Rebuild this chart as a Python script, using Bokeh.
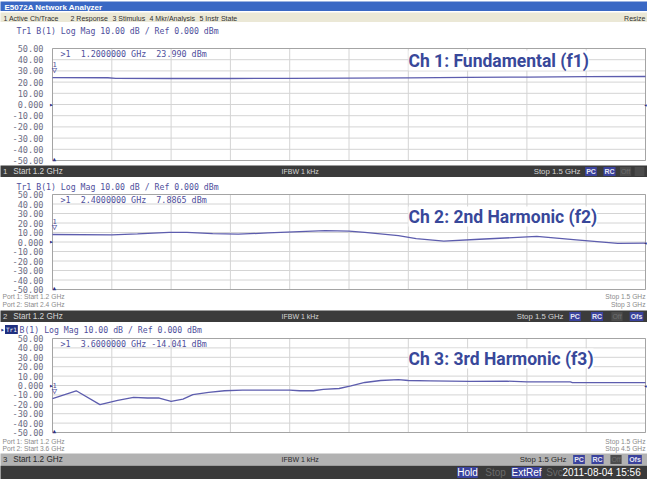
from bokeh.plotting import figure
from bokeh.models import Range1d, Label
from bokeh.layouts import column
from bokeh.core.properties import value
from bokeh.embed import file_html
from bokeh.resources import INLINE

# ---------------- data ----------------
X_TICKS = [1.20, 1.23, 1.26, 1.29, 1.32, 1.35, 1.38, 1.41, 1.44, 1.47, 1.50]
Y_TICKS = [-50, -40, -30, -20, -10, 0, 10, 20, 30, 40, 50]
Y_LABELS = ["-50.00", "-40.00", "-30.00", "-20.00", "-10.00", "0.000",
            "10.00", "20.00", "30.00", "40.00", "50.00"]

CH1_FREQ = [1.200, 1.228, 1.232, 1.260, 1.290, 1.320, 1.350, 1.380, 1.410, 1.440, 1.470, 1.500]
CH1_DBM = [23.99, 23.90, 23.30, 23.20, 23.20, 23.30, 23.50, 23.80, 24.20, 24.50, 24.80, 25.00]

CH2_FREQ = [1.200, 1.230, 1.243, 1.259, 1.268, 1.281, 1.294, 1.309, 1.325, 1.338,
            1.350, 1.358, 1.375, 1.384, 1.398, 1.416, 1.445, 1.465, 1.486, 1.500]
CH2_DBM = [7.89, 7.6, 8.6, 10.2, 10.2, 8.9, 8.2, 9.5, 10.9, 12.0,
           11.5, 10.2, 6.8, 3.5, 1.0, 2.9, 5.9, 2.2, -1.5, -1.2]

CH3_FREQ = [1.200, 1.212, 1.224, 1.233, 1.241, 1.248, 1.254, 1.260, 1.266, 1.271,
            1.279, 1.287, 1.296, 1.309, 1.320, 1.325, 1.332, 1.337, 1.345, 1.351,
            1.358, 1.366, 1.375, 1.380, 1.391, 1.411, 1.430, 1.440, 1.462, 1.463, 1.500]
CH3_DBM = [-14.04, -5.6, -20.4, -15.8, -12.6, -13.3, -13.3, -16.8, -14.4, -9.8,
           -7.4, -5.6, -4.9, -4.9, -4.9, -5.6, -5.6, -4.2, -3.2, -0.3,
           3.2, 5.3, 6.3, 5.3, 4.9, 4.4, 4.6, 3.8, 3.8, 3.0, 3.0]

HEADER = "Tr1 B(1) Log Mag 10.00 dB / Ref 0.000 dBm"
MARKERS = [">1\u00a0\u00a01.2000000 GHz\u00a0\u00a023.990 dBm",
           ">1\u00a0\u00a02.4000000 GHz\u00a0\u00a07.8865 dBm",
           ">1\u00a0\u00a03.6000000 GHz -14.041 dBm"]
TITLES = ["Ch 1: Fundamental (f1)", "Ch 2: 2nd Harmonic (f2)", "Ch 3: 3rd Harmonic (f3)"]
PORTS = [None,
         ("Port 1: Start 1.2 GHz", "Port 2: Start 2.4 GHz", "Stop 1.5 GHz", "Stop 3 GHz"),
         ("Port 1: Start 1.2 GHz", "Port 2: Start 3.6 GHz", "Stop 1.5 GHz", "Stop 4.5 GHz")]
MENU = [("1 Active Ch/Trace", 3), ("2 Response", 70), ("3 Stimulus", 112),
        ("4 Mkr/Analysis", 149), ("5 Instr State", 199)]

# ---------------- style ----------------
W = 647
BOX_L, BOX_R = 52, 645          # pixel columns of the graticule
TRACE = "#5d5dae"
GRID = "#d4d4d4"
OUTLINE = "#a4a4a4"
TICKC = "#6e6e84"
HDRC = "#4f4f9c"
BIGC = "#38489a"
BAR = "#3b3b3b"
BAR_TXT = "#d6d6d6"
BLUEBOX = "#3a429c"
MONO = "DejaVu Sans Mono"
SANS = "Liberation Sans"
BIGFONT = "Roboto"


def add_label(p, x, y, text, size, color, font=SANS, style="normal", align="left",
              baseline="middle", units="data", bg=None, pad=0):
    p.add_layout(Label(x=x, y=y, x_units=units, y_units=units, text=text,
                       text_font=font, text_font_size=f"{size}px", text_color=color,
                       text_font_style=style, text_align=align, text_baseline=baseline,
                       background_fill_color=bg, padding=pad))


def base(height, xr, yr, bg):
    p = figure(width=W, height=height, x_range=xr, y_range=yr,
               output_backend="svg", toolbar_location=None, x_axis_location=None,
               y_axis_location=None, min_border=0, min_border_left=0, min_border_right=0,
               min_border_top=0, min_border_bottom=0, background_fill_color=bg,
               border_fill_color=bg, outline_line_color=None)
    p.grid.visible = False
    return p


def channel(idx, height, top, fh, freq, dbm, hdr_y, big_dy, port_y):
    x0, x1 = X_TICKS[0], X_TICKS[-1]
    y0, y1 = Y_TICKS[0], Y_TICKS[-1]
    kx = (x1 - x0) / (BOX_R - BOX_L)
    ky = (y1 - y0) / fh
    xr = Range1d(x0 - BOX_L * kx, x1 + (W - BOX_R) * kx)
    yr = Range1d(y0 - (height - top - fh) * ky, y1 + top * ky)
    p = base(height, xr, yr, "white")

    # graticule
    p.segment(x0=x0, y0=Y_TICKS, x1=x1, y1=Y_TICKS, line_color=GRID, line_width=1)
    p.segment(x0=X_TICKS, y0=y0, x1=X_TICKS, y1=y1, line_color=GRID, line_width=1)
    p.quad(left=[x0], right=[x1], bottom=[y0], top=[y1], fill_color=None,
           line_color=OUTLINE, line_width=1)
    # tick labels
    p.text(x=x0, y=Y_TICKS, text=Y_LABELS, x_offset=-9, text_align="right",
           text_baseline="middle", text_font=value(MONO), text_font_size="8.6px",
           text_color=TICKC)

    # trace
    p.line(freq, dbm, line_color=TRACE, line_width=1.3)

    # markers / reference arrows
    p.text(x=[freq[0]], y=[dbm[0]], text=["\u25bd"], x_offset=2, y_offset=-3,
           text_align="center", text_baseline="bottom", text_font=value(MONO),
           text_font_size="9px", text_color=HDRC)
    p.text(x=[freq[0]], y=[dbm[0]], text=["1"], x_offset=2, y_offset=-11,
           text_align="center", text_baseline="bottom", text_font=value(MONO),
           text_font_size="7px", text_color=HDRC)
    p.text(x=[x0], y=[0], text=["\u25b8"], x_offset=1, text_align="right",
           text_baseline="middle", text_font=value(MONO), text_font_size="7px",
           text_color="#303080")
    p.text(x=[x1], y=[0], text=["\u25c2"], text_align="center",
           text_baseline="middle", text_font=value(MONO), text_font_size="6px",
           text_color="#303080")
    p.text(x=[x0], y=[y0], text=["\u25b2"], text_align="left", y_offset=1,
           text_baseline="bottom", text_font=value(MONO), text_font_size="6px",
           text_color="#303080")

    def put(cx, cy, text, size, color, **kw):
        add_label(p, cx, height - cy, text, size, color, units="screen", **kw)

    # header
    if idx == 3:
        put(0, hdr_y, "\u25b8", 7, "#2a3a8a", font=MONO)
        put(4.5, hdr_y, "Tr1", 6, "white", font=MONO, bg="#1f2f80", pad=1)
        put(19, hdr_y, HEADER[4:], 8.2, HDRC, font=MONO)
    else:
        put(16, hdr_y, HEADER, 8.2, HDRC, font=MONO)
    # marker readout
    put(60, top + 5, MARKERS[idx - 1], 8.4, HDRC, font=MONO)
    # big channel title
    put(408, top + big_dy, TITLES[idx - 1], 17.5, BIGC, font=BIGFONT, style="bold",
        bg="white", pad=0)
    if PORTS[idx - 1]:
        a, b, c, d = PORTS[idx - 1]
        put(2, port_y[0], a, 6.7, "#8a8a8a")
        put(2, port_y[1], b, 6.7, "#8a8a8a")
        put(645, port_y[0], c, 6.7, "#8a8a8a", align="right")
        put(645, port_y[1], d, 6.7, "#8a8a8a", align="right")
    return p


def strip(height, bg):
    return base(height, Range1d(0, W), Range1d(height, 0), bg)


def status(num, h, bg, txt, boxes, ofs=True):
    p = strip(h, bg)
    cy = h / 2
    add_label(p, 2.5, cy, str(num), 7.8, txt)
    add_label(p, 12.7, cy, "Start 1.2 GHz", 8.2, txt)
    add_label(p, 281, cy, "IFBW 1 kHz", 7, txt)
    add_label(p, boxes[0][0] - 3, cy, "Stop 1.5 GHz", 7.8, txt, align="right")
    names = ["PC", "RC", "Off", "Ofs"]
    for (a, b), n in zip(boxes, names):
        xc = (a + b) / 2
        if n == "Off":
            add_label(p, xc, cy, n, 7, "#6e6e6e", align="center", bg="#4c4c4c", pad=1)
        elif n == "Ofs" and not ofs:
            add_label(p, xc, cy, "\u00a0\u00a0\u00a0\u00a0", 7, "#6e6e6e", align="center",
                      bg="#4c4c4c", pad=1)
        else:
            add_label(p, xc, cy, n, 7, "#e6e6f2", align="center", bg=BLUEBOX, pad=1,
                      style="bold")
    return p


# title bar
tb = strip(11, "#3a68c4")
add_label(tb, 4, 5.5, "E5072A Network Analyzer", 8, "white", style="bold")

# menu bar
mb = strip(11, "#ebe8d6")
for t, x in MENU:
    add_label(mb, x, 5.5, t, 7, "#303030")
add_label(mb, 645, 5.5, "Resize", 7, "#303030", align="right")

ch1 = channel(1, 143, 26, 112, CH1_FREQ, CH1_DBM, 8, 12, None)
ch2 = channel(2, 133, 17, 95, CH2_FREQ, CH2_DBM, 9, 22, (119.2, 126.8))
ch3 = channel(3, 131, 16, 94, CH3_FREQ, CH3_DBM, 7, 20, (118.5, 126.3))

s1 = status(1, 12, BAR, BAR_TXT, [(583, 598), (601, 617), (619, 631), (632, 646)], ofs=False)
s2 = status(2, 12, BAR, BAR_TXT, [(566, 583), (588, 605), (610, 623), (627, 645)])
s3 = status(3, 12, "#b2b2b2", "#2a2a2a", [(569, 588), (589, 605), (608, 623), (625, 644)])

bot = strip(14, "#3a3a3a")
add_label(bot, 467, 7, "Hold", 10, "white", align="center", bg=BLUEBOX, pad=0)
add_label(bot, 495, 7, "Stop", 10, "#6a6a6a", align="center")
add_label(bot, 526, 7, "ExtRef", 10, "white", align="center", bg=BLUEBOX, pad=0)
add_label(bot, 554, 7, "Svc", 10, "#6a6a6a", align="center")
add_label(bot, 562, 7, "2011-08-04 15:56", 10, "white")

layout = column(tb, mb, ch1, s1, ch2, s2, ch3, s3, bot, spacing=0)

open("out.html", "w").write(file_html(layout, INLINE))
